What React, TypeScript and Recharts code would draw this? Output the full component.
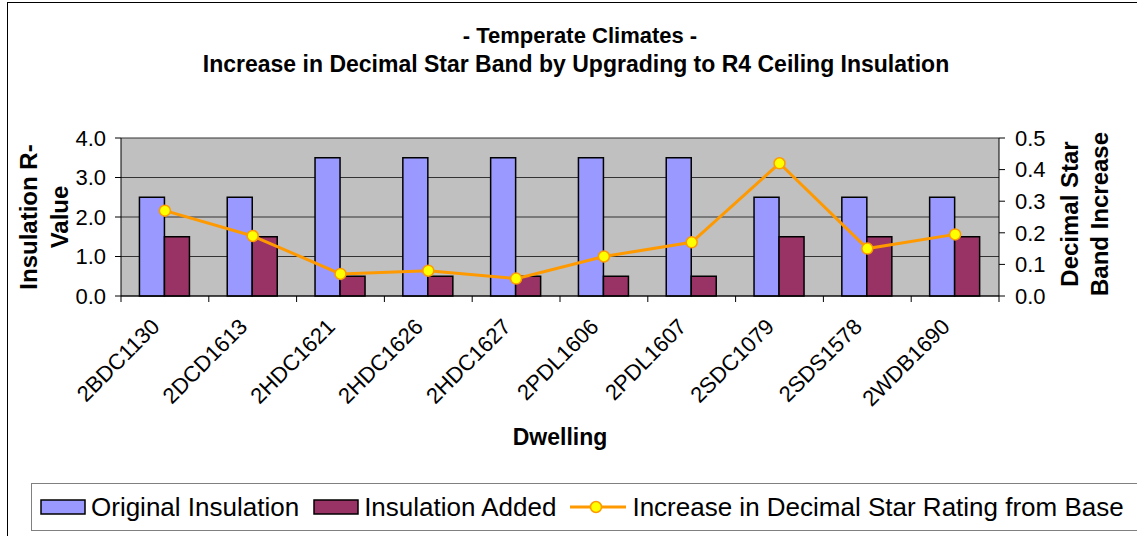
import React from 'react';
import { ComposedChart, Bar, Line, XAxis, YAxis, CartesianGrid } from 'recharts';

const dwellings = [
  '2BDC1130', '2DCD1613', '2HDC1621', '2HDC1626', '2HDC1627',
  '2PDL1606', '2PDL1607', '2SDC1079', '2SDS1578', '2WDB1690',
];
const originalInsulation = [2.5, 2.5, 3.5, 3.5, 3.5, 3.5, 3.5, 2.5, 2.5, 2.5];
const insulationAdded = [1.5, 1.5, 0.5, 0.5, 0.5, 0.5, 0.5, 1.5, 1.5, 1.5];
const starIncrease = [0.27, 0.19, 0.07, 0.08, 0.055, 0.125, 0.17, 0.42, 0.15, 0.195];
const rValueTicks = [0, 1, 2, 3, 4];
const starTicks = [0, 0.1, 0.2, 0.3, 0.4, 0.5];

const data = dwellings.map((name, i) => ({
  name,
  original: originalInsulation[i],
  added: insulationAdded[i],
  increase: starIncrease[i],
}));

const FONT = '"Liberation Sans", Arial, sans-serif';

// category ticks sit on the band edges, labels run diagonally under each band
const DwellingTick = (props: any) => {
  const { x, y, payload, index, width, visibleTicksCount } = props;
  const half = width / visibleTicksCount / 2;
  const lx = x - 4;
  const ly = y + 32;
  return (
    <g>
      <line x1={x - half} y1={y} x2={x - half} y2={y + 6} stroke="#000" strokeWidth={1} />
      {index === visibleTicksCount - 1 && (
        <line x1={x + half} y1={y} x2={x + half} y2={y + 6} stroke="#000" strokeWidth={1} />
      )}
      <text
        x={lx}
        y={ly}
        transform={`rotate(-45 ${lx} ${ly})`}
        textAnchor="end"
        fontSize={22}
        fontFamily={FONT}
        fill="#000"
      >
        {payload.value}
      </text>
    </g>
  );
};

const Swatch = ({ color }: { color: string }) => (
  <svg width={46} height={16} style={{ display: 'block' }}>
    <rect x={1} y={1} width={44} height={14} fill={color} stroke="#000" strokeWidth={1.5} />
  </svg>
);

const LineSwatch = () => (
  <svg width={56} height={16} style={{ display: 'block' }}>
    <line x1={0} y1={8} x2={56} y2={8} stroke="#FF9900" strokeWidth={3} />
    <circle cx={26} cy={8} r={5.5} fill="#FFFF00" stroke="#FF9900" strokeWidth={1.5} />
  </svg>
);

const App: React.FC = () => {
  return (
    <div style={{ position: 'absolute', left: 0, top: 0, width: 1137, height: 536, overflow: 'hidden', background: '#fff', fontFamily: FONT }}>
      <div style={{ position: 'absolute', left: 7, top: 2, width: 1140, height: 540, border: '1px solid #000' }} />

      <ComposedChart
        width={1137}
        height={536}
        data={data}
        margin={{ top: 138, right: 78, left: 61, bottom: 130 }}
        barCategoryGap="21%"
        barGap={0}
        style={{ position: 'absolute', left: 0, top: 0 }}
      >
        <CartesianGrid
          yAxisId="left"
          vertical={false}
          stroke="#333"
          fill="#C0C0C0"
        />
        <XAxis
          dataKey="name"
          height={110}
          tickSize={0}
          tickMargin={0}
          tickLine={false}
          axisLine={{ stroke: '#000', strokeWidth: 1 }}
          tick={<DwellingTick />}
          interval={0}
        />
        <YAxis
          yAxisId="left"
          width={60}
          domain={[0, 4]}
          ticks={rValueTicks}
          tickFormatter={(v: number) => v.toFixed(1)}
          tickSize={6}
          tickMargin={9}
          tick={{ fill: '#000', fontSize: 22, fontFamily: FONT }}
          axisLine={{ stroke: '#000' }}
          tickLine={{ stroke: '#000' }}
        />
        <YAxis
          yAxisId="right"
          orientation="right"
          width={60}
          domain={[0, 0.5]}
          ticks={starTicks}
          tickFormatter={(v: number) => v.toFixed(1)}
          tickSize={6}
          tickMargin={10}
          tick={{ fill: '#000', fontSize: 22, fontFamily: FONT, textAnchor: 'start' }}
          axisLine={{ stroke: '#000' }}
          tickLine={{ stroke: '#000' }}
        />
        <Bar yAxisId="left" dataKey="original" name="Original Insulation" fill="#9999FF" stroke="#000" strokeWidth={1.5} isAnimationActive={false} />
        <Bar yAxisId="left" dataKey="added" name="Insulation Added" fill="#993366" stroke="#000" strokeWidth={1.5} isAnimationActive={false} />
        <Line
          yAxisId="right"
          dataKey="increase"
          name="Increase in Decimal Star Rating from Base"
          stroke="#FF9900"
          strokeWidth={3}
          dot={{ r: 5.5, fill: '#FFFF00', stroke: '#FF9900', strokeWidth: 1.5 }}
          activeDot={false}
          isAnimationActive={false}
        />
      </ComposedChart>

      <svg width={1137} height={536} style={{ position: 'absolute', left: 0, top: 0, pointerEvents: 'none' }}>
        <g fontFamily={FONT} fontWeight="bold" fill="#000" textAnchor="middle">
          <text x={580} y={43} fontSize={22}>- Temperate Climates -</text>
          <text x={576} y={72} fontSize={23}>Increase in Decimal Star Band by Upgrading to R4 Ceiling Insulation</text>
          <text x={560} y={445} fontSize={23}>Dwelling</text>
          <text transform="translate(37 217) rotate(-90)" fontSize={24}>Insulation R-</text>
          <text transform="translate(68 217) rotate(-90)" fontSize={24}>Value</text>
          <text transform="translate(1078 214) rotate(-90)" fontSize={24}>Decimal Star</text>
          <text transform="translate(1108 214) rotate(-90)" fontSize={24}>Band Increase</text>
        </g>
      </svg>

      <div
        style={{
          position: 'absolute',
          left: 31,
          top: 483,
          width: 1102,
          height: 46,
          border: '1px solid #808080',
          background: '#fff',
          display: 'flex',
          alignItems: 'center',
          paddingLeft: 8,
          boxSizing: 'content-box',
          fontSize: 26,
          color: '#000',
          whiteSpace: 'nowrap',
        }}
      >
        <Swatch color="#9999FF" />
        <span style={{ marginLeft: 5, marginRight: 14 }}>Original Insulation</span>
        <Swatch color="#993366" />
        <span style={{ marginLeft: 5, marginRight: 14 }}>Insulation Added</span>
        <LineSwatch />
        <span style={{ marginLeft: 6 }}>Increase in Decimal Star Rating from Base</span>
      </div>
    </div>
  );
};

export default App;
